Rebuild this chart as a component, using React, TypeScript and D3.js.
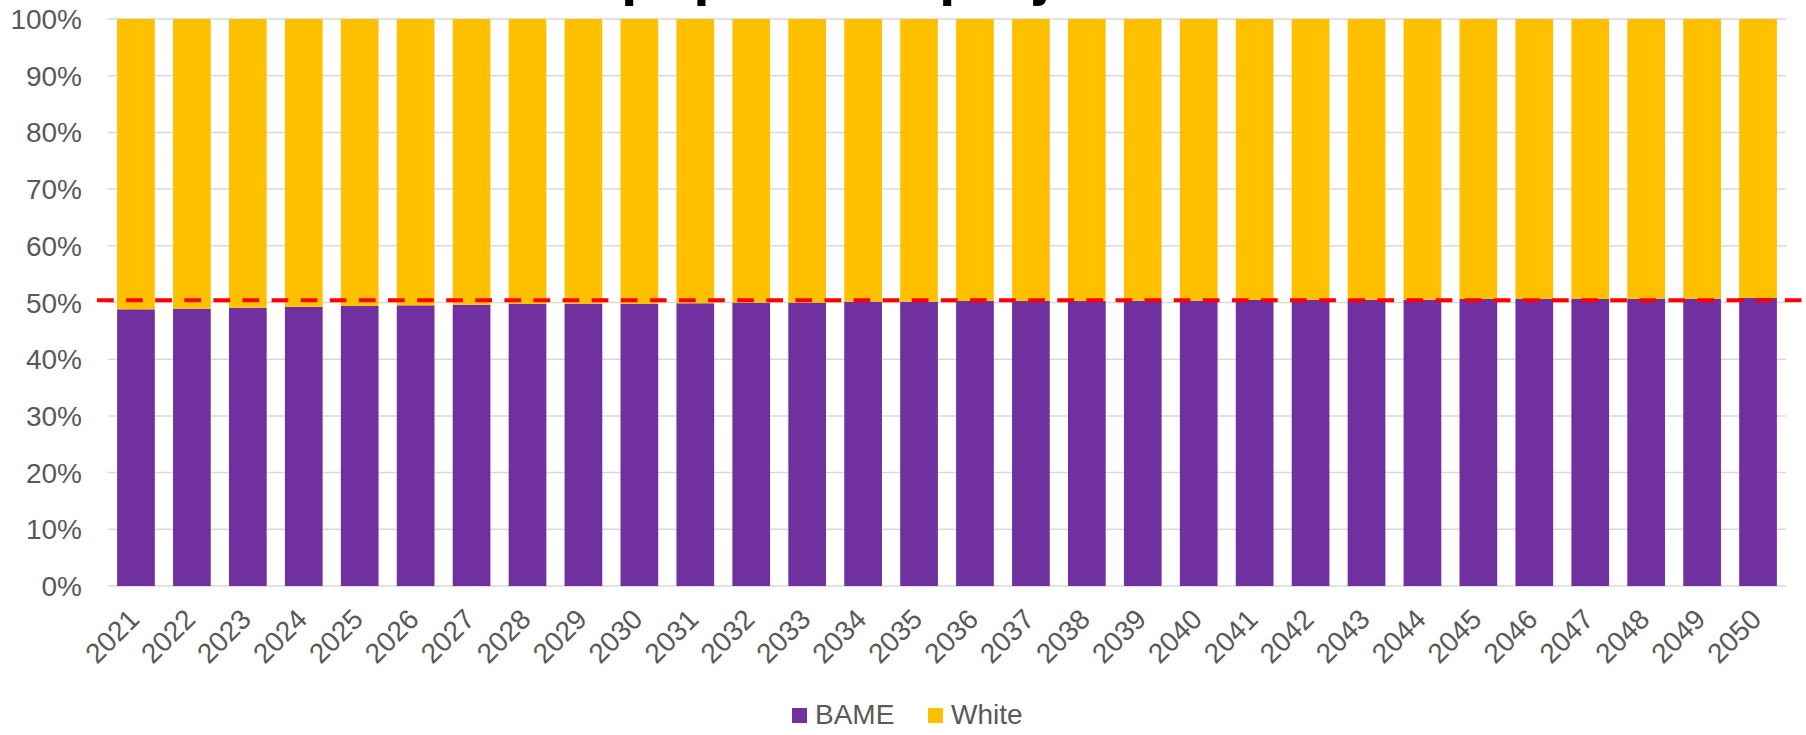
import { useEffect } from "react";
import * as d3 from "d3";

// Years on the x axis
const years: string[] = [
  "2021", "2022", "2023", "2024", "2025", "2026", "2027", "2028", "2029", "2030",
  "2031", "2032", "2033", "2034", "2035", "2036", "2037", "2038", "2039", "2040",
  "2041", "2042", "2043", "2044", "2045", "2046", "2047", "2048", "2049", "2050",
];

// BAME share of population (White is the rest up to 100%)
const bameShare: number[] = [
  0.488, 0.489, 0.4908, 0.4926, 0.4938, 0.495, 0.4961, 0.4974, 0.4979, 0.4974,
  0.4986, 0.4997, 0.4997, 0.5015, 0.5015, 0.5026, 0.5026, 0.5026, 0.5032, 0.5032,
  0.5044, 0.5044, 0.5046, 0.505, 0.5062, 0.5062, 0.5062, 0.5067, 0.5067, 0.508,
];

const whiteShare: number[] = bameShare.map((v) => 1 - v);

const yTicks: number[] = [0, 0.1, 0.2, 0.3, 0.4, 0.5, 0.6, 0.7, 0.8, 0.9, 1];

// Reference line drawn across the chart
const referenceLevel = 0.504;

const seriesNames: string[] = ["BAME", "White"];
const seriesColors: string[] = ["#7030A0", "#FFC000"];

const App = () => {
  useEffect(() => {
    d3.select("#chart").select("svg").remove();

    const width = 1806;
    const height = 735;
    const font = "'Liberation Sans', Arial, sans-serif";

    const svg = d3
      .select("#chart")
      .append("svg")
      .attr("width", width)
      .attr("height", height)
      .style("position", "absolute")
      .style("left", "0px")
      .style("top", "0px")
      .style("background", "#fff");

    const x = d3
      .scaleBand<string>()
      .domain(years)
      .range([108, 1786])
      .paddingInner(0.326)
      .paddingOuter(0.163);

    const y = d3.scaleLinear().domain([0, 1]).range([586, 19]);

    // title (mostly cut off at the top of the picture, as in the original)
    svg
      .append("text")
      .attr("x", 431)
      .attr("y", -6)
      .attr("font-family", font)
      .attr("font-weight", "bold")
      .attr("font-size", 59)
      .attr("fill", "#000")
      .text("BAME population projection");

    // gridlines
    svg
      .append("g")
      .selectAll("line")
      .data(yTicks)
      .enter()
      .append("line")
      .attr("x1", 108)
      .attr("x2", 1786)
      .attr("y1", (d) => y(d))
      .attr("y2", (d) => y(d))
      .attr("stroke", "#D9D9D9")
      .attr("stroke-width", 1.5);

    // y labels
    svg
      .append("g")
      .selectAll("text")
      .data(yTicks)
      .enter()
      .append("text")
      .attr("x", 82)
      .attr("y", (d) => y(d))
      .attr("dy", "0.36em")
      .attr("text-anchor", "end")
      .attr("font-family", font)
      .attr("font-size", 28)
      .attr("fill", "#595959")
      .text((d) => d3.format(".0%")(d));

    // stacked bars
    const rows = years.map((yr, i) => ({ year: yr, BAME: bameShare[i], White: whiteShare[i] }));
    const stack = d3.stack<any>().keys(seriesNames)(rows);

    svg
      .append("g")
      .selectAll("g")
      .data(stack)
      .enter()
      .append("g")
      .attr("fill", (_d, i) => seriesColors[i])
      .selectAll("rect")
      .data((d) => d)
      .enter()
      .append("rect")
      .attr("x", (d) => x(d.data.year)!)
      .attr("width", x.bandwidth())
      .attr("y", (d) => y(d[1]))
      .attr("height", (d) => y(d[0]) - y(d[1]));

    // x labels, rotated
    svg
      .append("g")
      .selectAll("text")
      .data(years)
      .enter()
      .append("text")
      .attr("transform", (d) => `translate(${x(d)! + x.bandwidth() / 2 + 5},621) rotate(-45)`)
      .attr("text-anchor", "end")
      .attr("font-family", font)
      .attr("font-size", 28)
      .attr("fill", "#595959")
      .text((d) => d);

    // red dashed reference line
    svg
      .append("line")
      .attr("x1", 97)
      .attr("x2", 1802)
      .attr("y1", y(referenceLevel))
      .attr("y2", y(referenceLevel))
      .attr("stroke", "#FF0000")
      .attr("stroke-width", 4)
      .attr("stroke-dasharray", "16.7 12.4");

    // legend
    const legendX = [792, 928];
    const legend = svg
      .append("g")
      .selectAll("g")
      .data(seriesNames)
      .enter()
      .append("g")
      .attr("transform", (_d, i) => `translate(${legendX[i]},708)`);

    legend
      .append("rect")
      .attr("width", 15)
      .attr("height", 15)
      .attr("fill", (_d, i) => seriesColors[i]);

    legend
      .append("text")
      .attr("x", 23)
      .attr("y", 16)
      .attr("font-family", font)
      .attr("font-size", 28)
      .attr("fill", "#595959")
      .text((d) => d);
  }, []);

  return <div id="chart"></div>;
};

export default App;
